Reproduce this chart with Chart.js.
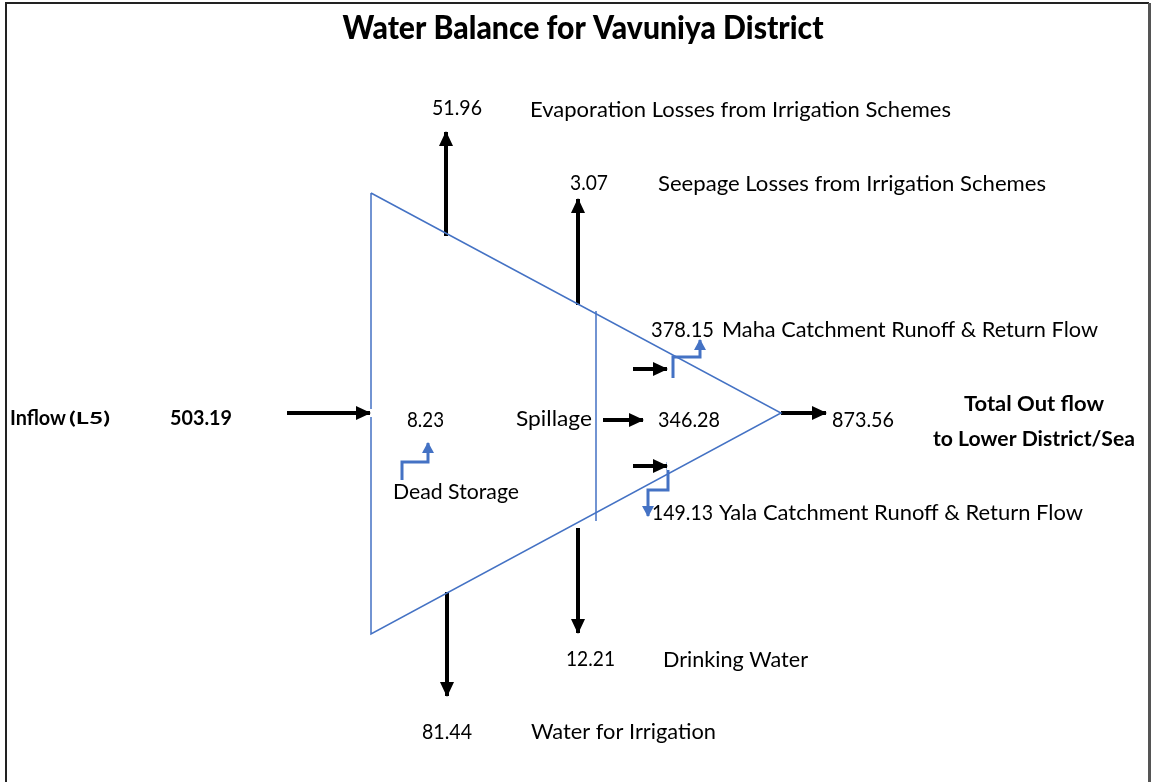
<!DOCTYPE html>
<html>
<head>
<meta charset="utf-8">
<title>Water Balance for Vavuniya District</title>
<script src="https://cdn.jsdelivr.net/npm/chart.js@4"></script>
<style>
  html, body { margin: 0; padding: 0; background: #fff; }
  #wrap { width: 1152px; height: 782px; }
</style>
</head>
<body>
<div id="wrap"><canvas id="diagram" width="1152" height="782"></canvas></div>
<script>
const chartTitle = "Water Balance for Vavuniya District";

// flows, in the order they are drawn
const flowNames = [
  "Inflow (L5)",
  "Evaporation Losses from Irrigation Schemes",
  "Seepage Losses from Irrigation Schemes",
  "Maha Catchment Runoff & Return Flow",
  "Yala Catchment Runoff & Return Flow",
  "Dead Storage",
  "Spillage",
  "Drinking Water",
  "Water for Irrigation",
  "Total Out flow to Lower District/Sea",
];
const flowValues = [503.19, 51.96, 3.07, 378.15, 149.13, 8.23, 346.28, 12.21, 81.44, 873.56];

const fmt = (v) => v.toFixed(2);

// diagram geometry (page units, y grows downward)
const tank = [[371, 193], [781, 413], [371, 634], [371, 193]];
const spillLine = [[596, 311], [596, 521]];

const blackArrows = [
  [[287, 413], [371, 413]],   // inflow
  [[446, 236], [446, 131]],   // evaporation
  [[578, 305], [578, 198]],   // seepage
  [[603, 420], [644, 420]],   // spillage
  [[781, 413], [827, 413]],   // total out flow
  [[633, 369], [668, 369]],   // maha
  [[633, 466], [668, 466]],   // yala
  [[578, 528], [578, 634]],   // drinking water
  [[447, 592], [447, 697]],   // irrigation
];
const blueArrows = [
  [[673, 378], [673, 357], [700, 357], [700, 339]],   // maha
  [[668, 462], [668, 490], [648, 490], [648, 517]],   // yala
  [[402, 480], [402, 462], [428, 462], [428, 442]],   // dead storage
];

// text: [text, x, y, width, style, align]
const texts = [
  [fmt(flowValues[1]), 432, 108, 50, "n", "left"],
  [flowNames[1], 530, 110, 421, "n", "left"],
  [fmt(flowValues[2]), 570, 183, 38, "n", "left"],
  [flowNames[2], 658, 184, 388, "n", "left"],
  [fmt(flowValues[3]), 651, 330, 63, "n", "left"],
  [flowNames[3], 722, 330, 376, "n", "left"],
  ["Inflow", 10, 418, 56, "b", "left"],
  ["(L5)", 69, 419, 41, "bs", "left"],
  [fmt(flowValues[0]), 170, 418, 62, "b", "left"],
  [fmt(flowValues[5]), 407, 420, 37, "n", "left"],
  [flowNames[6], 516, 419, 76, "n", "left"],
  [fmt(flowValues[6]), 658, 420, 62, "n", "left"],
  [fmt(flowValues[9]), 832, 420, 62, "n", "left"],
  ["Total Out flow", 1034, 404, 140, "b", "center"],
  ["to Lower District/Sea", 1034, 439, 202, "b", "center"],
  [flowNames[5], 393, 492, 126, "n", "left"],
  [fmt(flowValues[4]), 652, 513, 61, "n", "left"],
  [flowNames[4], 719, 513, 364, "n", "left"],
  [fmt(flowValues[7]), 566, 659, 49, "n", "left"],
  [flowNames[7], 663, 660, 145, "n", "left"],
  [fmt(flowValues[8]), 422, 732, 50, "n", "left"],
  [flowNames[8], 531, 732, 185, "n", "left"],
];

const BLUE = "#4472c4";
const toPts = (arr) => arr.map(([x, y]) => ({ x, y }));

const datasets = [
  { data: toPts(tank), borderColor: BLUE, borderWidth: 1.5 },
  { data: toPts(spillLine), borderColor: BLUE, borderWidth: 1.5 },
];
blackArrows.forEach((a) =>
  datasets.push({ data: toPts(a), borderColor: "#000", borderWidth: 4, arrow: { len: 15, half: 7 } })
);
blueArrows.forEach((a) =>
  datasets.push({ data: toPts(a), borderColor: BLUE, borderWidth: 3, arrow: { len: 11, half: 6 } })
);
datasets.forEach((d) => {
  d.showLine = true;
  d.pointRadius = 0;
  d.borderJoinStyle = "miter";
  d.borderCapStyle = "butt";
});

const framePlugin = {
  id: "frame",
  beforeDraw(chart) {
    const ctx = chart.ctx;
    ctx.save();
    ctx.fillStyle = "#fff";
    ctx.fillRect(0, 0, chart.width, chart.height);
    ctx.strokeStyle = "#222";
    ctx.lineWidth = 2;
    ctx.beginPath();
    ctx.moveTo(6, 800);
    ctx.lineTo(6, 3);
    ctx.lineTo(1149, 3);
    ctx.stroke();
    ctx.strokeStyle = "#555";
    ctx.lineWidth = 3;
    ctx.beginPath();
    ctx.moveTo(1149.5, 3);
    ctx.lineTo(1149.5, 800);
    ctx.stroke();
    ctx.restore();
  },
};

// arrowheads on the last segment of each flagged dataset
const arrowPlugin = {
  id: "arrowheads",
  afterDatasetsDraw(chart) {
    const ctx = chart.ctx;
    chart.data.datasets.forEach((ds, i) => {
      if (!ds.arrow) return;
      const pts = chart.getDatasetMeta(i).data;
      const a = pts[pts.length - 2], b = pts[pts.length - 1];
      const ang = Math.atan2(b.y - a.y, b.x - a.x);
      const { len, half } = ds.arrow;
      ctx.save();
      ctx.translate(b.x, b.y);
      ctx.rotate(ang);
      // cover the line end so the head has a sharp tip
      ctx.fillStyle = "#fff";
      ctx.fillRect(-1, -ds.borderWidth, 3, ds.borderWidth * 2);
      ctx.fillStyle = ds.borderColor;
      ctx.beginPath();
      ctx.moveTo(0, 0);
      ctx.lineTo(-len, -half);
      ctx.lineTo(-len, half);
      ctx.closePath();
      ctx.fill();
      ctx.restore();
    });
  },
};

const textPlugin = {
  id: "labels",
  afterDraw(chart) {
    const ctx = chart.ctx;
    const xs = chart.scales.x, ys = chart.scales.y;
    const family = "Lato, 'Open Sans', sans-serif";
    const draw = (str, x, y, w, font, align) => {
      ctx.save();
      ctx.font = font;
      ctx.fillStyle = "#000";
      ctx.textBaseline = "middle";
      const natural = ctx.measureText(str).width;
      const px = xs.getPixelForValue(x), py = ys.getPixelForValue(y);
      const left = align === "center" ? px - w / 2 : px;
      ctx.translate(left, py);
      ctx.scale(w / natural, 1);
      ctx.textAlign = "left";
      ctx.fillText(str, 0, 0);
      ctx.restore();
    };
    draw(chartTitle, 583, 29, 481, "900 32px " + family, "center");
    texts.forEach(([str, x, y, w, style, align]) => {
      const font = style === "b" ? "bold 21px " + family
        : style === "bs" ? "bold 17px " + family
        : "21px " + family;
      draw(str, x, y, w, font, align);
    });
  },
};

new Chart(document.getElementById("diagram"), {
  type: "scatter",
  data: { datasets },
  options: {
    responsive: false,
    animation: false,
    layout: { padding: 0 },
    scales: {
      x: { type: "linear", min: 0, max: 1152, display: false },
      y: { type: "linear", min: 0, max: 782, reverse: true, display: false },
    },
    plugins: { legend: { display: false }, tooltip: { enabled: false } },
  },
  plugins: [framePlugin, arrowPlugin, textPlugin],
});
</script>
</body>
</html>
